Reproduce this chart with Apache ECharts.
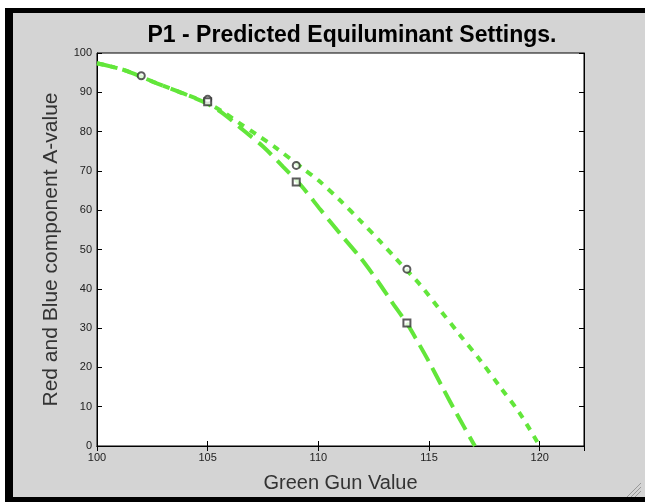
<!DOCTYPE html>
<html>
<head>
<meta charset="utf-8">
<script src="https://cdn.jsdelivr.net/npm/echarts@6/dist/echarts.min.js"></script>
<style>html,body{margin:0;padding:0;background:#fff}#c{width:645px;height:502px}</style>
</head>
<body>
<div id="c"></div>
<script>
// Data
var titleText = 'P1 - Predicted Equiluminant Settings.';
var xName = 'Green Gun Value';
var yName = 'Red and Blue component A-value';
// long-dash fitted curve (through squares)
var curveA = [[100,97.4],[101.2,95.7],[102.7,92.3],[103.9,89.7],[104.95,87.2],[105.7,84.6],[106.6,80.4],[107.5,76.2],[108.4,71.1],[109.2,66.4],[110.1,60.1],[111,53.9],[111.9,47.9],[112.7,41.8],[113.3,36.8],[114,31.2],[114.4,27.4],[115,21.4],[115.6,15],[116.2,8.7],[117.07,0]];
// short-dash fitted curve (through circles)
var curveB = [[100,97.4],[101.2,95.7],[102.7,92.3],[103.9,89.7],[104.95,87.4],[105.7,85],[106.4,82.3],[107.2,79.3],[108.1,75.8],[109.3,70.6],[110,67.6],[111,62.4],[111.9,57.3],[112.8,52],[113.5,47.7],[114.6,41],[115.5,34.6],[116.4,28.2],[117.3,21.9],[118.2,15.1],[119.1,8.3],[120,0]];
var circles = [[102,94.2],[105,88.2],[109,71.4],[114,45]];
var squares = [[105,87.6],[109,67.2],[114,31.3]];
var xTicks = {min:100, max:122, interval:5};
var yTicks = {min:0, max:100, interval:10};

var green = '#62e63a';
var chart = echarts.init(document.getElementById('c'));
var font = 'Liberation Sans';
function xa(pos, labels){
  return {type:'value', position:pos, min:xTicks.min, max:xTicks.max, interval:xTicks.interval,
    axisLine:{show:true, lineStyle:{color:'#000', width:1}},
    axisTick:{show:true, inside:true, length:5, lineStyle:{color:'#000'}},
    axisLabel:{show:labels, color:'#222', fontFamily:font, fontSize:11, margin:6, showMaxLabel:false},
    splitLine:{show:false},
    name: labels ? xName : '', nameLocation:'middle', nameGap:27,
    nameTextStyle:{color:'#333', fontFamily:font, fontSize:20}};
}
function ya(pos, labels){
  return {type:'value', position:pos, min:yTicks.min, max:yTicks.max, interval:yTicks.interval,
    axisLine:{show:true, lineStyle:{color:'#000', width:1}},
    axisTick:{show:true, inside:true, length:5, lineStyle:{color:'#000'}},
    axisLabel:{show:labels, color:'#222', fontFamily:font, fontSize:11, margin:5},
    splitLine:{show:false},
    name: labels ? yName : '', nameLocation:'middle', nameGap:35,
    nameTextStyle:{color:'#333', fontFamily:font, fontSize:21}};
}
var option = {
  backgroundColor:'#d4d4d4',
  animation:false,
  title:{text:titleText, left:347, top:19, textAlign:'center',
    textStyle:{fontFamily:font, fontSize:23, fontWeight:'bold', color:'#000'}},
  grid:{left:97, right:61, top:53, bottom:56, show:true, backgroundColor:'#fff', borderColor:'#000', borderWidth:1},
  xAxis:[xa('bottom', true), xa('top', false)],
  yAxis:[ya('left', true), ya('right', false)],
  graphic:[
    {type:'rect', shape:{x:0,y:0,width:645,height:8}, style:{fill:'#fff'}, silent:true},
    {type:'rect', shape:{x:0,y:0,width:5,height:502}, style:{fill:'#fff'}, silent:true},
    {type:'rect', shape:{x:5,y:8,width:640,height:5}, style:{fill:'#000'}, silent:true},
    {type:'rect', shape:{x:5,y:8,width:8,height:494}, style:{fill:'#000'}, silent:true},
    {type:'rect', shape:{x:5,y:497,width:640,height:5}, style:{fill:'#000'}, silent:true},
    {type:'line', shape:{x1:641,y1:483,x2:627,y2:497}, style:{stroke:'#999', lineWidth:1}, silent:true},
    {type:'line', shape:{x1:641,y1:487,x2:631,y2:497}, style:{stroke:'#999', lineWidth:1}, silent:true},
    {type:'line', shape:{x1:641,y1:491,x2:635,y2:497}, style:{stroke:'#999', lineWidth:1}, silent:true}
  ],
  series:[
    {type:'line', data:curveA, showSymbol:false, smooth:0.3, xAxisIndex:0, yAxisIndex:0,
      lineStyle:{color:green, width:4, type:[18,8], cap:'butt'}, z:2},
    {type:'line', data:curveB, showSymbol:false, smooth:0.3, xAxisIndex:0, yAxisIndex:0,
      lineStyle:{color:green, width:4, type:[7,7], cap:'butt'}, z:2},
    {type:'scatter', data:circles, symbol:'emptyCircle', symbolSize:7,
      itemStyle:{color:'#333', borderColor:'#333', borderWidth:1}, z:3},
    {type:'scatter', data:squares, symbol:'emptyRect', symbolSize:7,
      itemStyle:{color:'#333', borderColor:'#333', borderWidth:1}, z:3}
  ]
};
chart.setOption(option);
</script>
</body>
</html>
